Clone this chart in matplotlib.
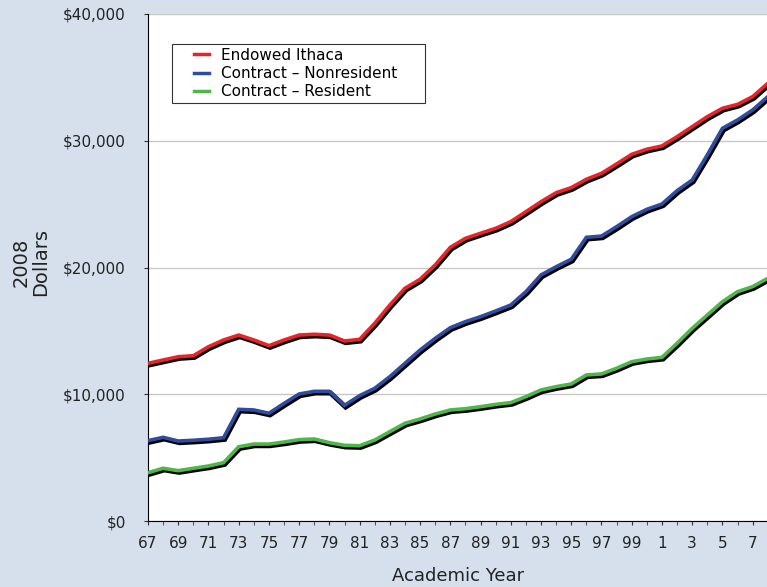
import matplotlib
matplotlib.use("Agg")
import matplotlib.pyplot as plt
import matplotlib.patheffects as pe
from matplotlib.ticker import FuncFormatter, MultipleLocator, FixedLocator

years = list(range(1967, 2009))
tick_years = list(range(1967, 2008, 2))

endowed_ithaca = [12440, 12700, 12960, 13040, 13750, 14280, 14670, 14280, 13830, 14280,
                  14670, 14730, 14670, 14200, 14330, 15600, 17040, 18360, 19070, 20200,
                  21590, 22300, 22700, 23090, 23620, 24400, 25190, 25900, 26300, 26960,
                  27430, 28170, 28930, 29330, 29590, 30320, 31110, 31900, 32560, 32870,
                  33480, 34530]
contract_nonresident = [6340, 6600, 6310, 6370, 6450, 6570, 8810, 8760, 8500, 9280,
                        10020, 10230, 10230, 9120, 9890, 10470, 11390, 12440, 13490, 14410,
                        15250, 15730, 16120, 16570, 17040, 18090, 19410, 20060, 20650, 22380,
                        22480, 23220, 24010, 24590, 25010, 26060, 26900, 28880, 30980, 31640,
                        32430, 33480]
contract_resident = [3810, 4160, 3970, 4160, 4340, 4600, 5860, 6070, 6070, 6230,
                     6420, 6470, 6180, 5970, 5940, 6390, 7050, 7710, 8050, 8440,
                     8760, 8860, 9020, 9200, 9340, 9810, 10340, 10600, 10810, 11520,
                     11600, 12050, 12570, 12780, 12910, 14020, 15200, 16250, 17300, 18090,
                     18490, 19150]

series_names = ["Endowed Ithaca", "Contract \u2013 Nonresident", "Contract \u2013 Resident"]
series_colors = ["#e8242b", "#2f4d9e", "#4db748"]

bg = "#d5e0ec"
fig = plt.figure(figsize=(7.67, 5.87), dpi=100, facecolor=bg)
ax = fig.add_axes([148/767, 1 - 521/587, (767-148)/767 + 0.001, (521-14)/587])
ax.set_facecolor("white")

shadow = [pe.SimpleLineShadow(offset=(0.8, -1.2), shadow_color="black", alpha=1.0, linewidth=3.6),
          pe.Normal()]
for vals, name, col in zip([endowed_ithaca, contract_nonresident, contract_resident],
                           series_names, series_colors):
    ax.plot(years, vals, color=col, lw=2.6, label=name, path_effects=shadow,
            solid_joinstyle="miter", zorder=3)

ax.set_xlim(1967, 2008)
ax.set_ylim(0, 40000)
ax.yaxis.set_major_locator(MultipleLocator(10000))
ax.yaxis.set_major_formatter(FuncFormatter(lambda v, p: f"${int(v):,}"))
ax.xaxis.set_major_locator(FixedLocator(tick_years))
ax.xaxis.set_minor_locator(MultipleLocator(1))
ax.xaxis.set_major_formatter(FuncFormatter(lambda v, p: f"{int(round(v)) % 100}"))
ax.grid(axis="y", color="#c8c8c8", lw=1.0, zorder=0)

for s in ["top", "right"]:
    ax.spines[s].set_visible(False)
ax.spines["left"].set_color("black")
ax.spines["bottom"].set_color("black")
ax.tick_params(axis="both", which="both", direction="out", color="#333333", labelsize=11,
               labelcolor="#222222")
ax.tick_params(axis="x", which="both", length=3, pad=8)
ax.tick_params(axis="y", length=3, pad=13)

ax.set_xlabel("Academic Year", fontsize=13, color="#222222", labelpad=11)
fig.text(0.040, 1 - 262/587, "2008\nDollars", rotation=90, fontsize=14, color="#222222",
         ha="center", va="center", linespacing=1.0)

labels_padded = [series_names[0], series_names[1] + "     ", series_names[2]]
handles = ax.get_lines()
leg = ax.legend(handles, labels_padded, loc="upper left",
                bbox_to_anchor=((172-148)/619, 1 - (44-14)/507),
                frameon=True, fancybox=False, fontsize=11, handlelength=2.2,
                borderpad=0.25, labelspacing=0.2, handletextpad=0.75, borderaxespad=0)
leg.get_frame().set_edgecolor("black")
leg.get_frame().set_linewidth(0.8)
for line in leg.get_lines():
    line.set_path_effects([])
    line.set_linewidth(2.5)
    xd = list(line.get_xdata())
    yd = list(line.get_ydata())
    x0, x1 = xd[0], xd[-1]
    line.set_data([x0 + 0.55*(x1-x0), x1], [yd[0], yd[-1]])

fig.savefig("out.png", dpi=100, facecolor=bg)
